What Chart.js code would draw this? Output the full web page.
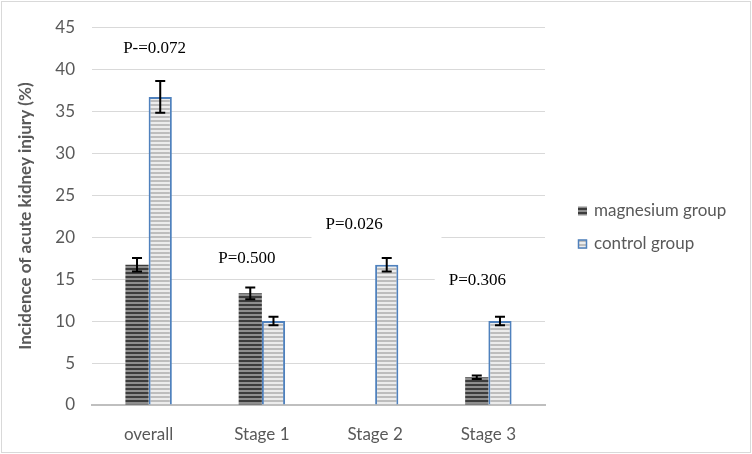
<!DOCTYPE html>
<html><head><meta charset="utf-8">
<script src="https://cdn.jsdelivr.net/npm/chart.js@4.4.0/dist/chart.umd.min.js"></script>
<style>html,body{margin:0;padding:0;background:#fff}#wrap{width:752px;height:454px;position:relative}</style>
</head><body><div id="wrap"><canvas id="c" width="752" height="454"></canvas></div>
<script>
const categories = ['overall', 'Stage 1', 'Stage 2', 'Stage 3'];
const seriesNames = ['magnesium group', 'control group'];
const magnesium = [16.7, 13.3, 0, 3.3];
const magnesiumErr = [0.8, 0.7, null, 0.2];
const control = [36.7, 10, 16.7, 10];
const controlErr = [1.9, 0.5, 0.8, 0.5];
const pLabels = ['P-=0.072', 'P=0.500', 'P=0.026', 'P=0.306'];
const pLabelY = [42.5, 17.5, 21.5, 14.8];
const yMin = 0, yMax = 45, yStep = 5;

function stripes(c1, c2) {
  const cv = document.createElement('canvas');
  cv.width = 4; cv.height = 4;
  const g = cv.getContext('2d');
  g.fillStyle = c1; g.fillRect(0, 0, 4, 2);
  g.fillStyle = c2; g.fillRect(0, 2, 4, 2);
  return g.createPattern(cv, 'repeat');
}
const ctx = document.getElementById('c').getContext('2d');
const mgFill = stripes('#3c3c3c', '#8e8e8e');
const ctFill = stripes('#bdbdbd', '#ececec');
const ctBorder = '#4f81bd';
const textGray = '#595959';
const tickFont = {family: 'Lato', size: 17};

const errData = [magnesiumErr, controlErr];

const errorBarPlugin = {
  id: 'errorBars',
  afterDatasetsDraw(chart) {
    const c = chart.ctx, y = chart.scales.y;
    c.save();
    c.strokeStyle = '#000'; c.lineWidth = 2;
    chart.data.datasets.forEach((ds, di) => {
      const meta = chart.getDatasetMeta(di);
      meta.data.forEach((bar, i) => {
        const e = errData[di][i];
        if (e == null) return;
        const v = ds.data[i];
        const yt = y.getPixelForValue(v + e), yb = y.getPixelForValue(v - e);
        const x = bar.x;
        c.beginPath();
        c.moveTo(x, yt); c.lineTo(x, yb);
        c.moveTo(x - 5, yt); c.lineTo(x + 5, yt);
        c.moveTo(x - 5, yb); c.lineTo(x + 5, yb);
        c.stroke();
      });
    });
    c.restore();
  }
};

const pDx = [6, -15, -21, -11];
const pLabelPlugin = {
  id: 'pLabels',
  beforeDatasetsDraw(chart) {
    const c = chart.ctx, xs = chart.scales.x, ys = chart.scales.y;
    c.save();
    c.font = '17px "Liberation Serif"';
    c.textBaseline = 'middle';
    c.textAlign = 'left';
    pLabels.forEach((t, i) => {
      const w = c.measureText(t).width;
      const cx = xs.getPixelForValue(i) + pDx[i];
      const cy = ys.getPixelForValue(pLabelY[i]);
      const left = cx - w / 2;
      c.fillStyle = '#fff';
      c.fillRect(left - 14, cy - 14, 130, 28);
      c.fillStyle = '#000';
      c.fillText(t, left, cy);
    });
    c.restore();
  }
};

const legendPlugin = {
  id: 'customLegend',
  afterDraw(chart) {
    const c = chart.ctx;
    c.save();
    const x0 = 578, ys = [211, 244];
    const fills = [mgFill, ctFill];
    c.font = '17px Lato';
    c.textBaseline = 'middle';
    seriesNames.forEach((n, i) => {
      c.fillStyle = fills[i];
      c.fillRect(x0, ys[i] - 4.5, 9, 9);
      if (i === 1) { c.strokeStyle = ctBorder; c.lineWidth = 1.5; c.strokeRect(x0 + 0.5, ys[i] - 4, 8, 8); }
      c.fillStyle = textGray;
      c.fillText(n, x0 + 16, ys[i]);
    });
    c.strokeStyle = '#d9d9d9'; c.lineWidth = 1;
    c.strokeRect(1.5, 1.5, 749, 451);
    c.restore();
  }
};

new Chart(ctx, {
  type: 'bar',
  data: {
    labels: categories,
    datasets: [
      {label: seriesNames[0], data: magnesium, backgroundColor: mgFill, borderWidth: 0},
      {label: seriesNames[1], data: control, backgroundColor: ctFill, borderColor: ctBorder, borderWidth: 2}
    ]
  },
  options: {
    responsive: false, animation: false, devicePixelRatio: 1,
    categoryPercentage: 0.41, barPercentage: 1,
    layout: {padding: {left: 0, top: 26, right: 207, bottom: 0}},
    plugins: {legend: {display: false}, tooltip: {enabled: false}},
    scales: {
      x: {
        grid: {display: false},
        border: {display: true, color: '#bfbfbf', width: 2},
        ticks: {color: textGray, font: tickFont, padding: 11},
        afterFit(s) { s.height = 49; }
      },
      y: {
        min: yMin, max: yMax,
        ticks: {stepSize: yStep, color: textGray, font: tickFont, padding: 17},
        grid: {color: '#d9d9d9', drawTicks: false},
        border: {display: false},
        title: {display: true, text: 'Incidence of acute kidney injury (%)', color: textGray,
                font: {family: 'Lato', size: 17, weight: 'bold'}, padding: {top: 15, bottom: 0}},
        afterFit(s) { s.width = 92; }
      }
    }
  },
  plugins: [pLabelPlugin, errorBarPlugin, legendPlugin]
});
</script></body></html>
